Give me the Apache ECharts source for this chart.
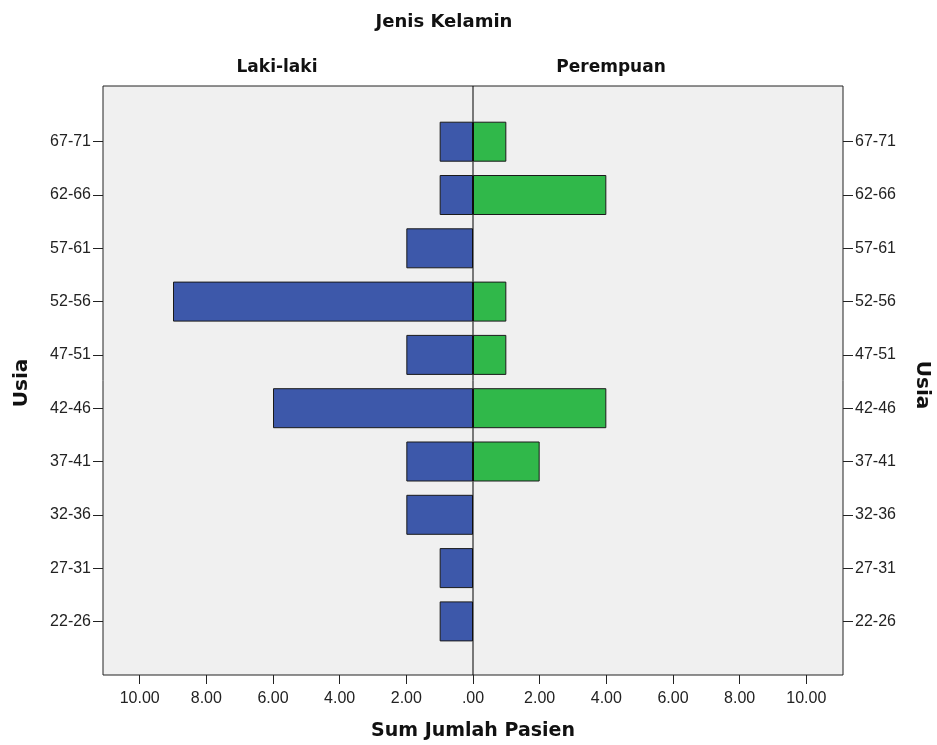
<!DOCTYPE html>
<html>
<head>
<meta charset="utf-8">
<script src="https://cdn.jsdelivr.net/npm/echarts@6/dist/echarts.min.js"></script>
<style>html,body{margin:0;padding:0;background:#fff;}#c{width:937px;height:745px;}</style>
</head>
<body>
<div id="c"></div>
<script>
// Data
const categories = ['22-26','27-31','32-36','37-41','42-46','47-51','52-56','57-61','62-66','67-71'];
const maleValues = [1, 1, 2, 2, 6, 2, 9, 2, 1, 1];
const femaleValues = [0, 0, 0, 2, 4, 1, 1, 0, 4, 1];
const xTicks = [0, 2, 4, 6, 8, 10];
const panelTitles = ['Laki-laki', 'Perempuan'];
const mainTitle = 'Jenis Kelamin';
const xTitle = 'Sum Jumlah Pasien';
const yTitle = 'Usia';

// padded categories (empty slot at each end)
const cats = [''].concat(categories, ['']);
const pad = arr => [null].concat(arr.map(v => v === 0 ? null : v), [null]);

const chart = echarts.init(document.getElementById('c'), null, {renderer: 'canvas'});
const tickFont = 'Liberation Sans, Arial, sans-serif';
const boldFont = 'DejaVu Sans, Verdana, sans-serif';

const PL = 103, PC = 473, PR = 843, PT = 86, PB = 675;
const BT = 88.4, BB = 674.7; // band layout of the category axis
const pxPerUnit = 33.333;
const half = PC - PL;
const maxV = half / pxPerUnit;

const yAxisCommon = {
  type: 'category', data: cats, boundaryGap: false,
  axisLine: {show: false, onZero: false},
  axisTick: {show: true, length: 10, lineStyle: {color: '#222', width: 1}, interval: (i, v) => v !== ''},
  axisLabel: {color: '#222', fontSize: 16, fontFamily: tickFont, margin: 12, interval: 0, padding: [5, 0, 0, 0]},
  splitLine: {show: false}
};

function xTickAxis(gridIndex, inverse, formatter) {
  return {
    gridIndex: gridIndex, type: 'value', min: 0, max: 10, interval: 2, inverse: inverse, position: 'bottom',
    axisLine: {show: true, onZero: false, lineStyle: {color: 'rgba(0,0,0,0)'}},
    splitLine: {show: false},
    axisTick: {show: true, length: 9, lineStyle: {color: '#222', width: 1}},
    axisLabel: {show: true, color: '#222', fontSize: 16, fontFamily: tickFont, margin: 16, formatter: formatter}
  };
}

chart.setOption({
  animation: false,
  grid: [
    {left: PL, top: BT, width: half, height: BB - BT},
    {left: PC, top: BT, width: PR - PC, height: BB - BT},
    {left: PC - 10 * pxPerUnit, top: PT, width: 10 * pxPerUnit, height: PB - PT},
    {left: PC, top: PT, width: 10 * pxPerUnit, height: PB - PT},
    {left: PL, top: PT, width: PR - PL, height: PB - PT, show: true, backgroundColor: '#f0f0f0', borderColor: '#222', borderWidth: 1, z: 0}
  ],
  xAxis: [
    {gridIndex: 0, type: 'value', min: 0, max: maxV, inverse: true, show: false},
    {gridIndex: 1, type: 'value', min: 0, max: (PR - PC) / pxPerUnit, show: false},
    xTickAxis(2, true, v => (xTicks.indexOf(v) >= 0 && v !== 0) ? v.toFixed(2) : ''),
    xTickAxis(3, false, v => xTicks.indexOf(v) < 0 ? '' : (v === 0 ? '.00' : v.toFixed(2))),
    {gridIndex: 4, type: 'value', show: false}
  ],
  yAxis: [
    Object.assign({gridIndex: 0, position: 'left'}, yAxisCommon),
    Object.assign({gridIndex: 1, position: 'right'}, yAxisCommon),
    {gridIndex: 2, type: 'value', min: 0, max: 1, show: false},
    {gridIndex: 3, type: 'value', min: 0, max: 1, show: false},
    {gridIndex: 4, type: 'value', show: false}
  ],
  series: [
    {type: 'bar', xAxisIndex: 0, yAxisIndex: 0, data: pad(maleValues), barWidth: 40,
      itemStyle: {color: '#3d58aa', borderColor: '#1a1a1a', borderWidth: 1}},
    {type: 'bar', xAxisIndex: 1, yAxisIndex: 1, data: pad(femaleValues), barWidth: 40,
      itemStyle: {color: '#30b84a', borderColor: '#1a1a1a', borderWidth: 1}}
  ],
  graphic: [
    {type: 'line', shape: {x1: PC, y1: PT, x2: PC, y2: PB}, style: {stroke: '#000', lineWidth: 1}, z: 100},
    {type: 'text', x: 444, y: 22, style: {text: mainTitle, font: 'bold 18px ' + boldFont, fill: '#111', textAlign: 'center', textVerticalAlign: 'middle'}},
    {type: 'text', x: 277, y: 68, style: {text: panelTitles[0], font: 'bold 17px ' + boldFont, fill: '#111', textAlign: 'center', textVerticalAlign: 'middle'}},
    {type: 'text', x: 611, y: 68, style: {text: panelTitles[1], font: 'bold 17px ' + boldFont, fill: '#111', textAlign: 'center', textVerticalAlign: 'middle'}},
    {type: 'text', x: 473, y: 731, style: {text: xTitle, font: 'bold 19px ' + boldFont, fill: '#111', textAlign: 'center', textVerticalAlign: 'middle'}},
    {type: 'text', x: 22, y: 383, rotation: Math.PI / 2, style: {text: yTitle, font: 'bold 20px ' + boldFont, fill: '#111', textAlign: 'center', textVerticalAlign: 'middle'}},
    {type: 'text', x: 922, y: 385, rotation: -Math.PI / 2, style: {text: yTitle, font: 'bold 20px ' + boldFont, fill: '#111', textAlign: 'center', textVerticalAlign: 'middle'}}
  ]
});
</script>
</body>
</html>
